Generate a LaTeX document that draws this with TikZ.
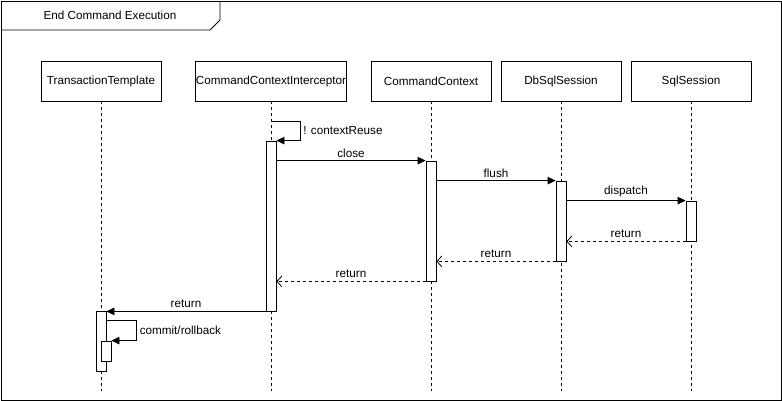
\documentclass[tikz,border=0pt]{standalone}
\usepackage{fontspec}
\setmainfont{Liberation Sans}
\usetikzlibrary{arrows.meta,positioning}

\begin{document}
\begin{tikzpicture}[x=1pt,y=-1pt,line width=0.8pt,font=\fontsize{11.7pt}{13pt}\selectfont]
  \tikzstyle{head}=[draw,rectangle,minimum width=120pt,minimum height=40pt,inner sep=0pt]
  \tikzstyle{act}=[draw,fill=white,rectangle,minimum width=10pt,inner sep=0pt]
  \tikzstyle{life}=[dash pattern=on 3pt off 3pt]
  \tikzstyle{call}=[-{Triangle[length=8pt,width=7.5pt]}]
  \tikzstyle{ret}=[-{Straight Barb[length=5pt,width=11pt]},dash pattern=on 3pt off 3pt]
  \tikzstyle{lbl}=[inner sep=3pt]

  \useasboundingbox (0,0) rectangle (782,401);

  % -- Frame --
  \draw (1,1) rectangle (781,400);
  \draw (1,30) -- (210,30) -- (220,20) -- (220,1);
  \node (title) at (110,15) {End Command Execution};

  % -- Participants --
  \node[head] (tt) at (101,81) {TransactionTemplate};
  \node[head] (cci) at (271,81) {CommandContextInterceptor};
  \node[head] (cc) at (431,81) {CommandContext};
  \node[head] (db) at (561,81) {DbSqlSession};
  \node[head] (sql) at (691,81) {SqlSession};

  % -- Lifelines --
  \foreach \p in {tt,cci,cc,db,sql}{
    \coordinate (\p-end) at (\p.center |- 0,391);
    \draw[life] (\p.south) -- (\p-end);
  }

  % -- Activations --
  \node[act,minimum height=170pt] (cci-act) at (271,226) {};
  \node[act,minimum height=120pt] (cc-act) at (431,221) {};
  \node[act,minimum height=80pt] (db-act) at (561,221) {};
  \node[act,minimum height=40pt] (sql-act) at (691,221) {};
  \node[act,minimum height=60pt] (tt-act) at (101,341) {};
  \node[act,minimum height=20pt] (tt-sub) at (106,351) {};

  % -- Self call: contextReuse --
  \coordinate (cci-self) at (271,121);
  \draw[call] (cci-self) -- ++(29,0) |- node[lbl,right,pos=0.25] {! contextReuse} (cci-act.north east);

  % -- Calls --
  \draw[call] (cc-act.north west -| cci-act.east) -- node[lbl,above] {close} (cc-act.north west);
  \draw[call] (db-act.north west -| cc-act.east) -- node[lbl,above] {flush} (db-act.north west);
  \draw[call] (sql-act.north west -| db-act.east) -- node[lbl,above] {dispatch} (sql-act.north west);

  % -- Returns --
  \draw[ret] (sql-act.south west) -- node[lbl,above] {return} (sql-act.south west -| db-act.east);
  \draw[ret] (db-act.south west) -- node[lbl,above] {return} (db-act.south west -| cc-act.east);
  \draw[ret] (cc-act.south west) -- node[lbl,above] {return} (cc-act.south west -| cci-act.east);
  \draw[call] (cci-act.south west) -- node[lbl,above] {return} (cci-act.south west -| tt-act.east);

  % -- Self call: commit/rollback --
  \draw[call] ([yshift=-10pt]tt-act.north east) -- ++(30,0) |- node[lbl,right,pos=0.25] {commit/rollback} (tt-sub.north east);
\end{tikzpicture}
\end{document}
